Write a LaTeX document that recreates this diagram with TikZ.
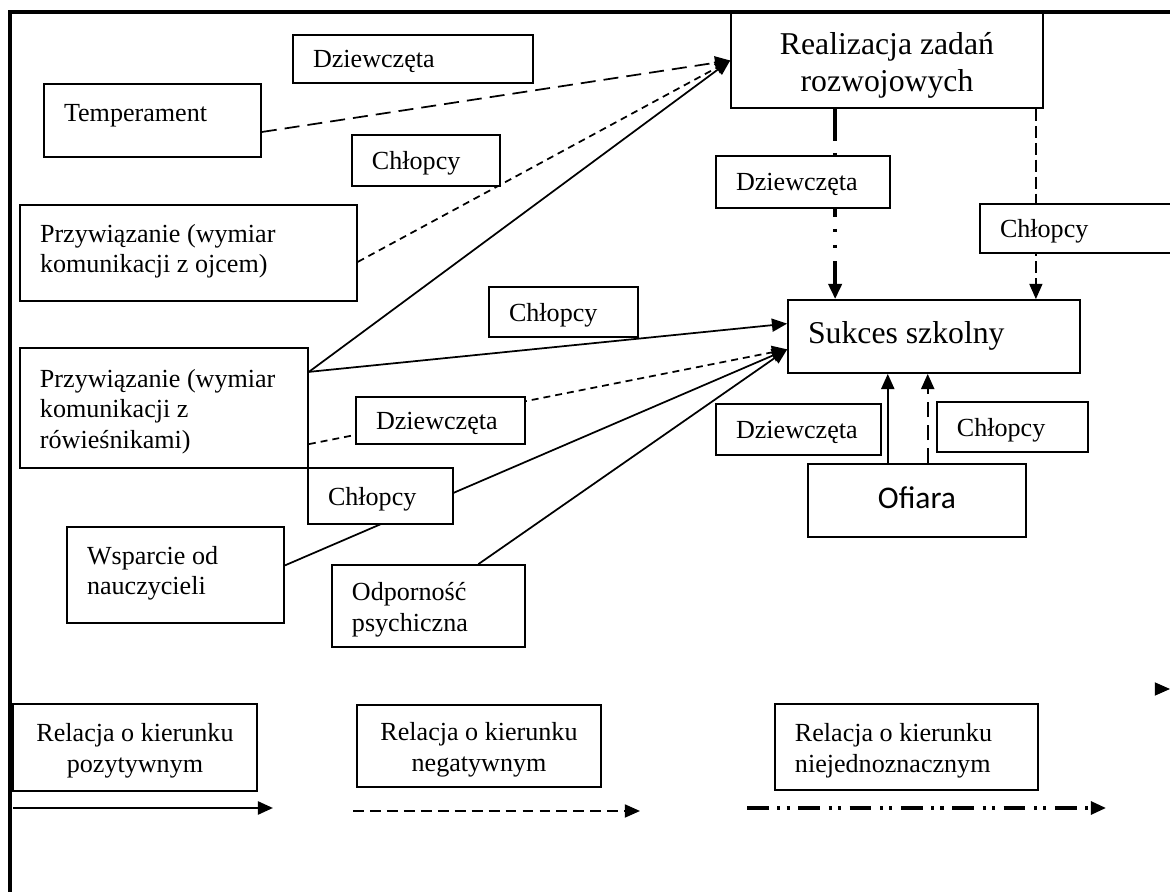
\documentclass[tikz,border=0pt]{standalone}
\usepackage{fontspec}
\setmainfont{Liberation Serif}
\newfontfamily\victimfont{Carlito}
\usetikzlibrary{arrows.meta}
\newcommand\droptext{\par\kern-3.4pt}

\begin{document}
\begin{tikzpicture}[x=0.46pt, y=-0.46pt, font=\fontsize{12}{14.2}\selectfont,
                    >={Triangle[length=7pt,width=6pt]}]
                \tikzstyle{box} = [draw, fill=white, line width=0.8pt, inner xsep=9.2pt, inner ysep=0pt, align=flush left, execute at end node=\droptext]
                \tikzstyle{mid} = [box, inner xsep=0pt, align=flush center]
                \tikzstyle{big} = [font=\fontsize{14.6}{17}\selectfont]
                \tikzstyle{link} = [line width=0.8pt]
                \tikzstyle{longdash} = [dash pattern=on 6.9pt off 3.7pt]
                \tikzstyle{shortdash} = [dash pattern=on 3.2pt off 2.3pt]

                \useasboundingbox (0,0) rectangle (1170,892);
                \draw [line width=1.6pt] (1180,12) -- (10,12) -- (10,900);

                \node [box, text width=81.4pt, minimum height=33.6pt] (temperament) at (152.5,120.5) {Temperament\par\kern7.8pt};
                \node [box, text width=136.6pt, minimum height=44.2pt] (attach-father) at (188.5,253) {Przywiązanie (wymiar\\komunikacji z ojcem)\par\kern5pt};
                \node [box, text width=114.1pt, minimum height=55.2pt] (attach-peers) at (164,408) {Przywiązanie (wymiar\\komunikacji z\\rówieśnikami)};
                \node [box, text width=81.4pt, minimum height=44.2pt] (teacher-support) at (175.5,575) {Wsparcie od\\nauczycieli\par\kern5pt};
                \node [box, text width=70.4pt, minimum height=37.7pt] (resilience) at (428.5,606) {Odporność\\psychiczna};
                \node [mid, big, text width=143.5pt, minimum height=43.7pt] (dev-tasks) at (887,60.5) {Realizacja zadań\\rozwojowych\par\kern-1.2pt};
                \node [box, big, text width=115.9pt, minimum height=33.6pt] (school-success) at (934,336.5) {Sukces szkolny\par\kern4pt};
                \node [mid, font=\victimfont\fontsize{14.5}{17}\selectfont, text width=100.3pt, minimum height=33.6pt] (victim) at (917,500.5) {Ofiara\par\kern6pt};

                \draw [link, longdash, ->] (temperament.-6) -- (dev-tasks.west);
                \draw [link, shortdash, ->] (attach-father.-3) -- (dev-tasks.west);
                \draw [link, ->] (attach-peers.14) -- (dev-tasks.west);
                \draw [link, ->] (attach-peers.14) -- (school-success.175.5);
                \draw [link, shortdash, ->] (attach-peers.-14.4) -- (school-success.185);
                \draw [link, ->] (teacher-support.5.8) -- (school-success.185);
                \draw [link, ->] (resilience.40) -- (school-success.185);
                \draw [line width=2pt, dash pattern=on 14.7pt off 5.5pt on 1.4pt off 6pt on 1.4pt off 6pt, ->] (dev-tasks.223) -- (dev-tasks.223 |- school-success.north);
                \draw [line width=0.6pt, dash pattern=on 5.5pt off 2.3pt, ->] (dev-tasks.-18.6) -- (dev-tasks.-18.6 |- school-success.north);
                \draw [line width=1pt, ->] (victim.128.5) -- (victim.128.5 |- school-success.south);
                \draw [line width=1pt, longdash, ->] (victim.74.7) -- (victim.74.7 |- school-success.south);

                \node [box, text width=92pt, minimum height=22.1pt] (girls-temp) at (413,59) {Dziewczęta};
                \node [box, text width=49.7pt, minimum height=23.5pt] (boys-father) at (426,160.5) {Chłopcy};
                \node [box, text width=50.1pt, minimum height=23pt] (boys-peers) at (563.5,312) {Chłopcy};
                \node [box, text width=59.3pt, minimum height=21.6pt] (girls-peers) at (440.5,420.5) {Dziewczęta};
                \node [box, text width=48.3pt, minimum height=25.8pt] (boys-support) at (380.5,496) {Chłopcy};
                \node [box, text width=61.6pt, minimum height=23.9pt] (girls-tasks) at (803,182) {Dziewczęta};
                \node [box, text width=82.8pt, minimum height=22.5pt] (boys-tasks) at (1090,228.5) {Chłopcy};
                \node [box, text width=57.5pt, minimum height=23.5pt] (girls-victim) at (798.5,429.5) {Dziewczęta};
                \node [box, text width=51.1pt, minimum height=23pt] (boys-victim) at (1012.5,427) {Chłopcy};

                \coordinate (stray-a) at (1156,689);
                \coordinate (stray-b) at (1170,689);
                \draw [line width=0.8pt, ->] (stray-a) -- (stray-b);

                \node [mid, text width=112.2pt, minimum height=40pt] (key-pos) at (135,747.5) {Relacja o kierunku\\pozytywnym};
                \node [mid, text width=112.2pt, minimum height=37.7pt] (key-neg) at (479,746) {Relacja o kierunku\\negatywnym};
                \node [box, text width=102.6pt, minimum height=39.6pt] (key-amb) at (906.5,747) {Relacja o kierunku\\niejednoznacznym};

                \coordinate (pos-a) at (13,808);
                \coordinate (pos-b) at (273,808);
                \coordinate (neg-a) at (353,811);
                \coordinate (neg-b) at (640,811);
                \coordinate (amb-a) at (747,808);
                \coordinate (amb-b) at (1106,808);
                \draw [line width=1.2pt, ->] (pos-a) -- (pos-b);
                \draw [line width=0.9pt, dash pattern=on 5pt off 2.8pt, ->] (neg-a) -- (neg-b);
                \draw [line width=1.4pt, dash pattern=on 10pt off 4pt on 1.4pt off 2.8pt on 1.4pt off 4pt, ->] (amb-a) -- (amb-b);
                \end{tikzpicture}
\end{document}
